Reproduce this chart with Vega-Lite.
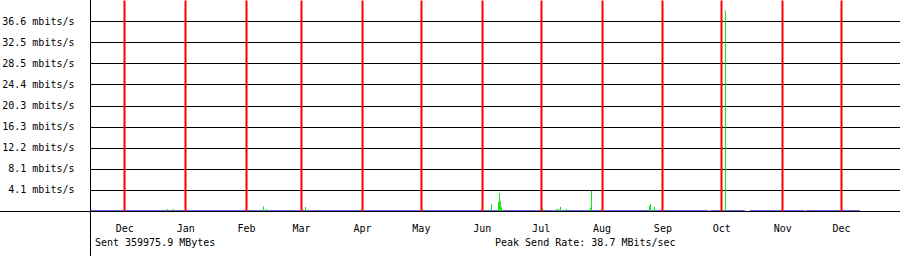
{
  "$schema": "https://vega.github.io/schema/vega-lite/v6.json",
  "width": 810,
  "height": 211,
  "autosize": {"type": "none"},
  "padding": {"left": 90, "top": 0, "right": 0, "bottom": 45},
  "background": "white",
  "config": {
    "view": {"stroke": null},
    "font": "DejaVu Sans Mono",
    "text": {"font": "DejaVu Sans Mono", "fontSize": 10, "color": "black"}
  },
  "datasets": {
    "blue": [
      {"t": "2004-11-13T12:00:00Z", "v": 0.1, "seg": 1},
      {"t": "2005-09-24T12:00:00Z", "v": 0.1, "seg": 1},
      {"t": "2005-09-25T05:00:00Z", "v": 0.1, "seg": 2},
      {"t": "2005-10-13T00:00:00Z", "v": 0.1, "seg": 2},
      {"t": "2005-10-15T13:00:00Z", "v": 0.1, "seg": 3},
      {"t": "2005-11-12T13:00:00Z", "v": 0.1, "seg": 3},
      {"t": "2005-11-13T02:00:00Z", "v": 0.1, "seg": 4},
      {"t": "2005-12-10T14:00:00Z", "v": 0.1, "seg": 4}
    ],
    "green": [
      {"t": "2004-12-22T23:00:00Z", "v": 0.4},
      {"t": "2004-12-26T00:00:00Z", "v": 0.4},
      {"t": "2005-02-09T21:00:00Z", "v": 0.9},
      {"t": "2005-02-11T09:00:00Z", "v": 0.4},
      {"t": "2005-03-03T06:00:00Z", "v": 0.8},
      {"t": "2005-06-05T23:00:00Z", "v": 1.35},
      {"t": "2005-06-09T12:00:00Z", "v": 1.8},
      {"t": "2005-06-10T00:00:00Z", "v": 3.45},
      {"t": "2005-06-10T12:00:00Z", "v": 1.9},
      {"t": "2005-06-11T00:00:00Z", "v": 0.8},
      {"t": "2005-07-01T22:00:00Z", "v": 0.5},
      {"t": "2005-07-09T01:00:00Z", "v": 0.4},
      {"t": "2005-07-10T01:00:00Z", "v": 0.4},
      {"t": "2005-07-11T02:00:00Z", "v": 0.8},
      {"t": "2005-07-14T02:00:00Z", "v": 0.4},
      {"t": "2005-07-26T09:00:00Z", "v": 0.65},
      {"t": "2005-07-26T21:00:00Z", "v": 3.85},
      {"t": "2005-08-25T09:00:00Z", "v": 1.0},
      {"t": "2005-08-25T22:00:00Z", "v": 1.35},
      {"t": "2005-08-27T23:00:00Z", "v": 0.8},
      {"t": "2005-10-03T02:00:00Z", "v": 38.7}
    ],
    "one": [{"k": 1}]
  },
  "layer": [
    {
      "data": {"name": "blue"},
      "mark": {"type": "line", "color": "#6464e6", "strokeWidth": 1},
      "encoding": {
        "x": {
          "field": "t",
          "type": "temporal",
          "scale": {
            "type": "utc",
            "nice": false,
            "domain": [
              {"year": 2004, "month": 11, "date": 13, "hours": 12, "utc": true},
              {"year": 2005, "month": 12, "date": 31, "utc": true}
            ]
          },
          "axis": {
            "values": [
              {"year": 2004, "month": 12, "date": 1, "utc": true},
              {"year": 2005, "month": 1, "date": 1, "utc": true},
              {"year": 2005, "month": 2, "date": 1, "utc": true},
              {"year": 2005, "month": 3, "date": 1, "utc": true},
              {"year": 2005, "month": 4, "date": 1, "utc": true},
              {"year": 2005, "month": 5, "date": 1, "utc": true},
              {"year": 2005, "month": 6, "date": 1, "utc": true},
              {"year": 2005, "month": 7, "date": 1, "utc": true},
              {"year": 2005, "month": 8, "date": 1, "utc": true},
              {"year": 2005, "month": 9, "date": 1, "utc": true},
              {"year": 2005, "month": 10, "date": 1, "utc": true},
              {"year": 2005, "month": 11, "date": 1, "utc": true},
              {"year": 2005, "month": 12, "date": 1, "utc": true}
            ],
            "tickCount": 30,
            "labelExpr": "utcFormat(datum.value, '%b')",
            "title": null,
            "grid": true,
            "gridColor": "#ff0000",
            "gridWidth": 2,
            "gridOpacity": 1,
            "ticks": false,
            "domain": false,
            "labelPadding": 12,
            "labelFont": "DejaVu Sans Mono",
            "labelFontSize": 10,
            "labelColor": "black",
            "labelFlush": false,
            "labelOverlap": false,
            "zindex": 1
          }
        },
        "y": {
          "field": "v",
          "type": "quantitative",
          "scale": {"domain": [0, 40.6667], "nice": false, "zero": true},
          "axis": {
            "values": [4.0667, 8.1333, 12.2, 16.2667, 20.3333, 24.4, 28.4667, 32.5333, 36.6],
            "tickCount": 30,
            "labelExpr": "format(datum.value, '.1f') + ' mbits/s'",
            "title": null,
            "grid": true,
            "gridColor": "black",
            "gridWidth": 1,
            "gridOpacity": 1,
            "ticks": false,
            "domain": false,
            "labelPadding": 16,
            "labelFont": "DejaVu Sans Mono",
            "labelFontSize": 10,
            "labelColor": "black",
            "labelOverlap": false,
            "zindex": 0
          }
        },
        "detail": {"field": "seg", "type": "nominal"}
      }
    },
    {
      "data": {"name": "green"},
      "mark": {"type": "rule", "color": "#11e011", "strokeWidth": 1},
      "encoding": {
        "x": {"field": "t", "type": "temporal"},
        "y": {"field": "v", "type": "quantitative"},
        "y2": {"datum": 0}
      }
    },
    {
      "data": {"name": "one"},
      "mark": {"type": "rule", "color": "black", "strokeWidth": 1, "yOffset": 0.5},
      "encoding": {
        "x": {"datum": {"year": 2004, "month": 9, "date": 1, "utc": true}, "type": "temporal"},
        "x2": {"datum": {"year": 2006, "month": 2, "date": 1, "utc": true}},
        "y": {"datum": 0, "type": "quantitative"}
      }
    },
    {
      "data": {"name": "one"},
      "mark": {"type": "rule", "color": "black", "strokeWidth": 1, "xOffset": 0.5},
      "encoding": {
        "x": {"datum": {"year": 2004, "month": 11, "date": 13, "hours": 12, "utc": true}, "type": "temporal"},
        "y": {"datum": 40.6667, "type": "quantitative"},
        "y2": {"datum": -8.8}
      }
    },
    {
      "data": {"name": "one"},
      "mark": {"type": "text", "align": "left", "baseline": "middle"},
      "encoding": {
        "x": {"datum": {"year": 2004, "month": 11, "date": 16, "utc": true}, "type": "temporal"},
        "y": {"datum": -6.2, "type": "quantitative"},
        "text": {"value": "Sent 359975.9 MBytes"}
      }
    },
    {
      "data": {"name": "one"},
      "mark": {"type": "text", "align": "left", "baseline": "middle"},
      "encoding": {
        "x": {"datum": {"year": 2005, "month": 6, "date": 7, "hours": 18, "utc": true}, "type": "temporal"},
        "y": {"datum": -6.2, "type": "quantitative"},
        "text": {"value": "Peak Send Rate: 38.7 MBits/sec"}
      }
    }
  ]
}
